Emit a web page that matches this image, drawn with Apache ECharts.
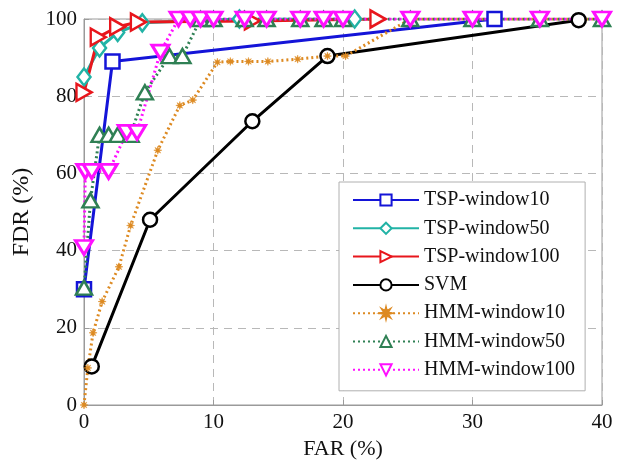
<!DOCTYPE html>
<html>
<head>
<meta charset="utf-8">
<script src="https://cdn.jsdelivr.net/npm/echarts@6/dist/echarts.min.js"></script>
<style>
  html, body { margin: 0; padding: 0; background: #fff; }
  #chart { width: 619px; height: 466px; }
</style>
</head>
<body>
<div id="chart"></div>
<script>
// ROC-style curves: detection rate (FDR) against false alarm rate (FAR), in %
const seriesNames = ['TSP-window10', 'TSP-window50', 'TSP-window100', 'SVM',
  'HMM-window10', 'HMM-window50', 'HMM-window100'];

const tspWindow10 = [[0, 30], [2.2, 89], [31.7, 100]];
const tspWindow50 = [[0, 85], [1.2, 92.5], [2.6, 96.5], [4.5, 99], [12, 100], [20.9, 100]];
const tspWindow100 = [[0, 81], [1.1, 95.3], [2.6, 98], [4.2, 99.2], [13, 99.5], [22.7, 100]];
const svm = [[0.6, 10], [5.1, 48], [13, 73.5], [18.8, 90.4], [38.2, 99.7]];
const hmmWindow10 = [[0, 0], [0.3, 9.6], [0.7, 18.7], [1.4, 26.8], [2.7, 35.8], [3.6, 46.5],
  [5.7, 66], [7.4, 77.6], [8.4, 79], [10.3, 88.8], [11.3, 89], [12.7, 89], [14.2, 89],
  [16.5, 89.6], [18.8, 90.4], [20.2, 90.4], [25.2, 100], [30, 100], [35.2, 100], [40, 100]];
const hmmWindow50 = [[0, 30.4], [0.5, 53], [1.2, 70], [1.9, 70], [2.6, 70], [3.6, 70],
  [4.7, 81], [6.6, 90.4], [7.6, 90.4], [9.0, 100], [10, 100], [12.4, 100], [14.1, 100],
  [16.7, 100], [18.5, 100], [20, 100], [25.2, 100], [30, 100], [35.2, 100], [40, 100]];
const hmmWindow100 = [[0, 40.8], [0.1, 60.5], [0.6, 60.5], [1.9, 60.5], [3.3, 70.6], [4.1, 70.6],
  [5.9, 91.4], [7.3, 100], [8.2, 100], [9.0, 100], [10, 100], [12.4, 100], [14.1, 100],
  [16.7, 100], [18.5, 100], [20, 100], [25.2, 100], [30, 100], [35.2, 100], [40, 100]];

const xTicks = { min: 0, max: 40, interval: 10 };
const yTicks = { min: 0, max: 100, interval: 20 };

const FONT = '"Liberation Serif", "Times New Roman", serif';
const STAR = 'path://M10,0 L3.7,1.53 L7.07,7.07 L1.53,3.7 L0,10 L-1.53,3.7 L-7.07,7.07 L-3.7,1.53 L-10,0 L-3.7,-1.53 L-7.07,-7.07 L-1.53,-3.7 L0,-10 L1.53,-3.7 L7.07,-7.07 L3.7,-1.53 Z';

function lineSeries(name, data, color, opts) {
  return Object.assign({
    name: name,
    type: 'line',
    data: data,
    showSymbol: true,
    symbolKeepAspect: true,
    animation: false,
    lineStyle: { color: color, width: 3, type: 'solid' },
    itemStyle: { color: '#fff', borderColor: color, borderWidth: 2.5 },
    emphasis: { disabled: true }
  }, opts);
}

const series = [
  lineSeries(seriesNames[0], tspWindow10, '#1414d8', { symbol: 'rect', symbolSize: 14 }),
  lineSeries(seriesNames[1], tspWindow50, '#22b3a6', { symbol: 'diamond', symbolSize: [13, 17] }),
  lineSeries(seriesNames[2], tspWindow100, '#e8161c', { symbol: 'triangle', symbolSize: [17, 15], symbolRotate: -90 }),
  lineSeries(seriesNames[3], svm, '#000000', { symbol: 'circle', symbolSize: 14 }),
  lineSeries(seriesNames[4], hmmWindow10, '#dd8a22', {
    symbol: STAR, symbolSize: 8,
    lineStyle: { color: '#dd8a22', width: 3, type: [2, 3] },
    itemStyle: { color: '#dd8a22', borderColor: '#dd8a22', borderWidth: 0.5 }
  }),
  lineSeries(seriesNames[5], hmmWindow50, '#2f8054', {
    symbol: 'triangle', symbolSize: [16, 14],
    lineStyle: { color: '#2f8054', width: 3, type: [2, 3] }
  }),
  lineSeries(seriesNames[6], hmmWindow100, '#ff10ff', {
    symbol: 'triangle', symbolSize: [17, 14], symbolRotate: 180,
    lineStyle: { color: '#ff10ff', width: 3, type: [2, 3] },
    itemStyle: { color: '#ffffff', borderColor: '#ff10ff', borderWidth: 3 }
  })
];

const chart = echarts.init(document.getElementById('chart'), null, { renderer: 'canvas' });
chart.setOption({
  backgroundColor: '#ffffff',
  animation: false,
  grid: {
    left: 84, right: 17, top: 19, bottom: 61,
    show: true, borderColor: '#9a9a9a', borderWidth: 1, backgroundColor: 'transparent'
  },
  xAxis: {
    type: 'value', min: xTicks.min, max: xTicks.max, interval: xTicks.interval,
    name: 'FAR (%)', nameLocation: 'middle', nameGap: 33,
    nameTextStyle: { fontFamily: FONT, fontSize: 22, color: '#111' },
    axisLine: { show: true, lineStyle: { color: '#9a9a9a', width: 1 } },
    axisTick: { show: true, inside: true, length: 5, lineStyle: { color: '#9a9a9a' } },
    axisLabel: { fontFamily: FONT, fontSize: 21, color: '#111', margin: 7 },
    splitLine: { show: true, lineStyle: { color: '#b8b8b8', type: [8, 6], width: 1 } }
  },
  yAxis: {
    type: 'value', min: yTicks.min, max: yTicks.max, interval: yTicks.interval,
    name: 'FDR (%)', nameLocation: 'middle', nameGap: 50, nameRotate: 90,
    nameTextStyle: { fontFamily: FONT, fontSize: 24, color: '#111' },
    axisLine: { show: true, lineStyle: { color: '#9a9a9a', width: 1 } },
    axisTick: { show: true, inside: true, length: 5, lineStyle: { color: '#9a9a9a' } },
    axisLabel: { fontFamily: FONT, fontSize: 21, color: '#111', margin: 7 },
    splitLine: { show: true, lineStyle: { color: '#b8b8b8', type: [8, 6], width: 1 } }
  },
  legend: {
    orient: 'vertical',
    left: 339, top: 182,
    padding: [8, 10, 11, 13],
    backgroundColor: '#ffffff',
    borderColor: '#b0b0b0', borderWidth: 1,
    itemWidth: 66, itemHeight: 14, itemGap: 8.3,
    textStyle: { fontFamily: FONT, fontSize: 20, color: '#111' },
    data: seriesNames
  },
  series: series
});
</script>
</body>
</html>
